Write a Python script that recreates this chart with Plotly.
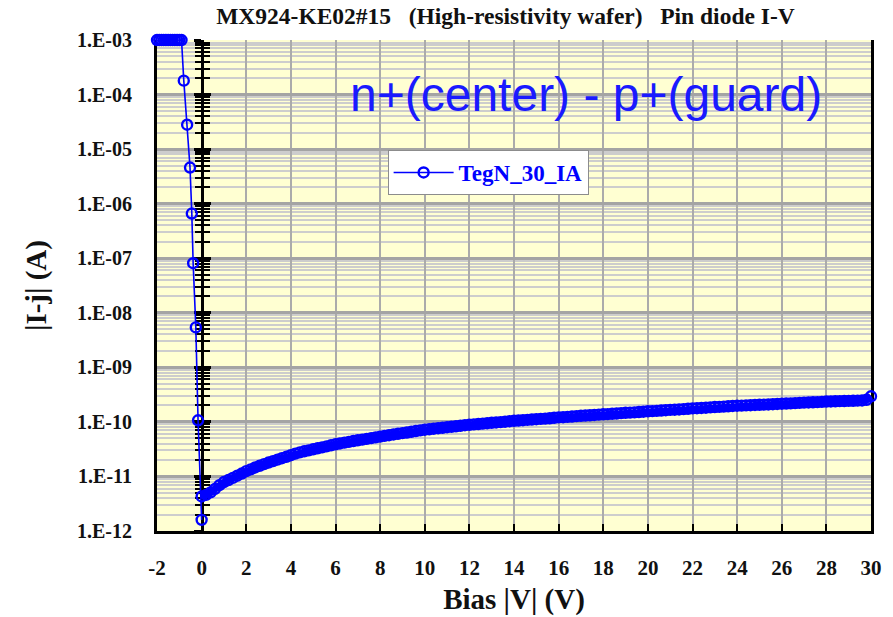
import plotly.graph_objects as go

# ---- measured data -------------------------------------------------------
# reverse side of the sweep: compliance at 1 mA, then the turn-off toward 0 V
rev_bias = [-2.0, -1.9, -1.8, -1.7, -1.6, -1.5, -1.4, -1.3, -1.2, -1.1, -1.0, -0.9,
            -0.8, -0.65, -0.52, -0.44, -0.38, -0.26, -0.16, 0.0]
rev_current = [1e-3, 1e-3, 1e-3, 1e-3, 1e-3, 1e-3, 1e-3, 1e-3, 1e-3, 1e-3, 1e-3, 1e-3,
               1.8e-4, 2.8e-5, 4.6e-6, 6.6e-7, 8.1e-8, 5.4e-9, 1.07e-10, 1.6e-12]

# forward sweep 0 ... 30 V in 0.2 V steps, leakage current in pA
fwd_step = 0.2
fwd_current_pA = [
    4.3, 4.6, 5.1, 5.9, 6.9, 7.9, 8.6, 9.4, 10.3, 11.3,
    12.5, 13.5, 14.6, 15.7, 16.8, 18.0, 19.1, 20.3, 21.6, 22.9,
    24.5, 26.2, 27.6, 28.9, 30.1, 31.5, 32.8, 34.1, 35.6, 37.2,
    38.9, 40.2, 41.6, 43.0, 44.6, 46.0, 47.4, 48.9, 50.5, 52.1,
    53.8, 55.4, 57.0, 58.9, 60.6, 62.3, 63.9, 65.8, 67.9, 69.9,
    71.8, 73.2, 74.9, 76.5, 78.0, 79.8, 81.3, 83.0, 84.9, 86.8,
    88.6, 90.0, 91.4, 93.1, 94.6, 96.2, 97.6, 99.1, 100.9, 102.8,
    104.6, 105.9, 107.3, 108.8, 110.4, 112.1, 113.5, 114.8, 116.6, 118.8,
    120.9, 122.0, 123.5, 125.2, 127.3, 129.6, 130.9, 132.2, 134.0, 136.1,
    137.9, 139.0, 140.6, 142.5, 144.8, 146.9, 148.0, 149.6, 151.5, 153.9,
    156.2, 157.6, 159.3, 161.4, 163.6, 166.0, 167.4, 169.2, 171.5, 174.1,
    176.6, 178.0, 179.9, 182.2, 184.8, 187.3, 188.8, 190.7, 193.0, 195.6,
    197.9, 199.0, 200.6, 202.4, 204.3, 206.1, 207.3, 208.9, 211.0, 213.4,
    215.7, 216.9, 218.6, 220.8, 223.1, 225.5, 226.9, 228.6, 230.7, 233.2,
    235.8, 237.0, 238.4, 239.8, 241.1, 242.4, 243.6, 245.0, 247.3, 254.0,
    295.0,
]
fwd_bias = [round(i * fwd_step, 1) for i in range(len(fwd_current_pA))]
fwd_current = [v * 1e-12 for v in fwd_current_pA]

# ---- axis ticks ------------------------------------------------------------
x_ticks = [-2, 0, 2, 4, 6, 8, 10, 12, 14, 16, 18, 20, 22, 24, 26, 28, 30]
y_decades = [1e-12, 1e-11, 1e-10, 1e-9, 1e-8, 1e-7, 1e-6, 1e-5, 1e-4, 1e-3]
y_tick_labels = ["1.E-12", "1.E-11", "1.E-10", "1.E-09", "1.E-08",
                 "1.E-07", "1.E-06", "1.E-05", "1.E-04", "1.E-03"]
y_minor = [d * m for d in y_decades[:-1] for m in range(2, 10)]

x_range = [-2, 30]
# top edge nudged just above 1 mA so the compliance points stay inside the range
y_range_log = [-12, -2.9999]

SERIF = "Liberation Serif, Times New Roman, serif"
SANS = "Liberation Sans, Arial, sans-serif"
BLUE = "#0000ff"
marker_style = dict(symbol="circle-open", size=10, color=BLUE, line=dict(width=2.4))

fig = go.Figure()
fig.add_trace(go.Scatter(
    x=rev_bias, y=rev_current, name="TegN_30_IA", legendgroup="teg",
    mode="lines+markers", line=dict(color=BLUE, width=1.6),
    marker=marker_style, cliponaxis=False,
))
fig.add_trace(go.Scatter(
    x=fwd_bias, y=fwd_current, name="TegN_30_IA", legendgroup="teg",
    showlegend=False, mode="lines+markers", line=dict(color=BLUE, width=7.5),
    marker=marker_style, cliponaxis=False,
))
# empty traces so the vertical zero-bias axis (ticks on both sides) is drawn
for ax in ("y2", "y3"):
    fig.add_trace(go.Scatter(x=[], y=[], yaxis=ax, showlegend=False, hoverinfo="skip"))

zero_pos = (0 - x_range[0]) / (x_range[1] - x_range[0])

zero_axis = dict(
    overlaying="y", anchor="free", position=zero_pos, side="left",
    type="log", range=y_range_log, showgrid=False, zeroline=False,
    showline=True, linecolor="black", linewidth=3,
    tickmode="array", tickvals=y_decades, showticklabels=False,
    ticklen=7, tickwidth=3, tickcolor="black",
    layer="below traces",
)

fig.update_layout(
    width=893, height=617,
    margin=dict(l=157, r=22, t=40, b=86),
    paper_bgcolor="white",
    plot_bgcolor="#FFFFD2",
    showlegend=True,
    title=dict(
        text="MX924-KE02#15&nbsp;&nbsp;&nbsp;(High-resistivity wafer)&nbsp;&nbsp;&nbsp;Pin diode I-V",
        font=dict(family=SERIF, size=23.5, color="#111111", weight="bold"),
        x=0.566, xanchor="center", xref="container",
        y=0.975, yanchor="middle", yref="container",
    ),
    xaxis=dict(
        range=x_range, tickmode="array", tickvals=x_ticks,
        ticktext=[str(t) for t in x_ticks],
        showgrid=True, gridcolor="#ababab", gridwidth=2, zeroline=False,
        showline=True, linecolor="black", linewidth=3,
        ticks="inside", ticklen=7, tickwidth=2, tickcolor="black",
        ticklabelstandoff=16, layer="below traces",
        tickfont=dict(family=SERIF, size=21, color="#111111", weight="bold"),
        title=dict(text="Bias |V| (V)", standoff=10,
                   font=dict(family=SERIF, size=29, color="#111111", weight="bold")),
        automargin=False,
    ),
    yaxis=dict(
        type="log", range=y_range_log, tickmode="array",
        tickvals=y_decades, ticktext=y_tick_labels,
        showgrid=True, gridcolor="#a4a4a4", gridwidth=3, zeroline=False,
        minor=dict(tickmode="array", tickvals=y_minor, showgrid=True,
                   gridcolor="#cdcdcd", gridwidth=2, ticks=""),
        showline=True, mirror=True, linecolor="black", linewidth=3,
        ticks="", ticklabelstandoff=18, layer="below traces",
        tickfont=dict(family=SERIF, size=20, color="#111111", weight="bold"),
        title=dict(text="|I-j| (A)", standoff=22,
                   font=dict(family=SERIF, size=29, color="#111111", weight="bold")),
        automargin=False,
    ),
    yaxis2=dict(zero_axis, ticks="outside",
                minor=dict(tickmode="array", tickvals=y_minor, ticks="outside",
                           ticklen=6, tickwidth=2, tickcolor="black")),
    yaxis3=dict(zero_axis, ticks="inside",
                minor=dict(tickmode="array", tickvals=y_minor, ticks="inside",
                           ticklen=6, tickwidth=2, tickcolor="black")),
    legend=dict(
        x=0.323, y=0.776, xanchor="left", yanchor="top",
        bgcolor="white", bordercolor="#8c8c8c", borderwidth=1,
        font=dict(family=SERIF, size=23, color=BLUE, weight="bold"),
        itemwidth=60,
    ),
    annotations=[dict(
        text="n+(center) - p+(guard)", xref="paper", yref="paper",
        x=0.601, y=0.888, xanchor="center", yanchor="middle", showarrow=False,
        font=dict(family=SANS, size=48, color="#1a1aff"),
    )],
)

fig.write_html("out.html")
